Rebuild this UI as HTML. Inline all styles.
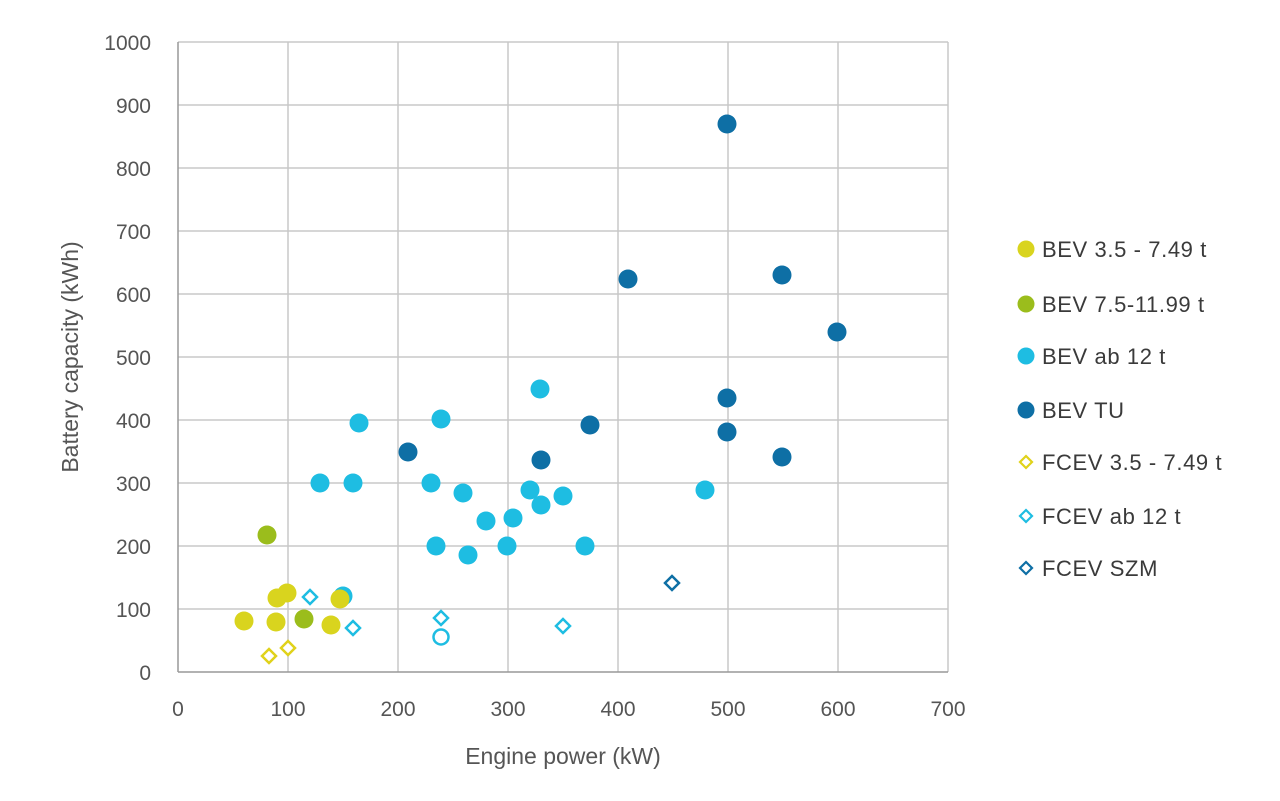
<!DOCTYPE html>
<html><head><meta charset="utf-8"><style>
html,body{margin:0;padding:0;background:#fff;}
svg{display:block;font-family:"Liberation Sans",sans-serif;}
</style></head><body>
<svg width="1280" height="801" viewBox="0 0 1280 801" xmlns="http://www.w3.org/2000/svg">
<rect width="1280" height="801" fill="#fff"/>
<g stroke="#c8c8c8" stroke-width="1.5">
<line x1="178" y1="42" x2="948" y2="42"/><line x1="178" y1="105" x2="948" y2="105"/><line x1="178" y1="168" x2="948" y2="168"/><line x1="178" y1="231" x2="948" y2="231"/><line x1="178" y1="294" x2="948" y2="294"/><line x1="178" y1="357" x2="948" y2="357"/><line x1="178" y1="420" x2="948" y2="420"/><line x1="178" y1="483" x2="948" y2="483"/><line x1="178" y1="546" x2="948" y2="546"/><line x1="178" y1="609" x2="948" y2="609"/>
<line x1="288" y1="42" x2="288" y2="672"/><line x1="398" y1="42" x2="398" y2="672"/><line x1="508" y1="42" x2="508" y2="672"/><line x1="618" y1="42" x2="618" y2="672"/><line x1="728" y1="42" x2="728" y2="672"/><line x1="838" y1="42" x2="838" y2="672"/><line x1="948" y1="42" x2="948" y2="672"/>
</g>
<g stroke="#999" stroke-width="1.5"><line x1="178" y1="42" x2="178" y2="672"/><line x1="178" y1="672" x2="948" y2="672"/></g>
<g fill="#555" font-size="21" text-anchor="end">
<text x="151" y="50">1000</text><text x="151" y="113">900</text><text x="151" y="176">800</text><text x="151" y="239">700</text><text x="151" y="302">600</text><text x="151" y="365">500</text><text x="151" y="428">400</text><text x="151" y="491">300</text><text x="151" y="554">200</text><text x="151" y="617">100</text><text x="151" y="680">0</text>
</g>
<g fill="#555" font-size="21" text-anchor="middle">
<text x="178" y="716">0</text><text x="288" y="716">100</text><text x="398" y="716">200</text><text x="508" y="716">300</text><text x="618" y="716">400</text><text x="728" y="716">500</text><text x="838" y="716">600</text><text x="948" y="716">700</text>
<text x="563" y="764" font-size="23">Engine power (kW)</text>
<text transform="translate(78,357) rotate(-90)" font-size="23">Battery capacity (kWh)</text>
</g>
<g fill="#1ebde2">
<circle cx="343" cy="596" r="9.5"/><circle cx="320" cy="483" r="9.5"/><circle cx="353" cy="483" r="9.5"/><circle cx="359" cy="423" r="9.5"/><circle cx="441" cy="419" r="9.5"/><circle cx="431" cy="483" r="9.5"/><circle cx="463" cy="493" r="9.5"/><circle cx="436" cy="546" r="9.5"/><circle cx="468" cy="555" r="9.5"/><circle cx="486" cy="521" r="9.5"/><circle cx="513" cy="518" r="9.5"/><circle cx="507" cy="546" r="9.5"/><circle cx="530" cy="490" r="9.5"/><circle cx="541" cy="505" r="9.5"/><circle cx="563" cy="496" r="9.5"/><circle cx="540" cy="389" r="9.5"/><circle cx="585" cy="546" r="9.5"/><circle cx="705" cy="490" r="9.5"/>
</g>
<circle cx="441" cy="637" r="7.5" fill="none" stroke="#1ebde2" stroke-width="2.5"/>
<g fill="#0e6fa5">
<circle cx="727" cy="124" r="9.5"/><circle cx="628" cy="279" r="9.5"/><circle cx="782" cy="275" r="9.5"/><circle cx="837" cy="332" r="9.5"/><circle cx="727" cy="398" r="9.5"/><circle cx="727" cy="432" r="9.5"/><circle cx="782" cy="457" r="9.5"/><circle cx="590" cy="425" r="9.5"/><circle cx="408" cy="452" r="9.5"/><circle cx="541" cy="460" r="9.5"/>
</g>
<g fill="#d9d41e">
<circle cx="244" cy="621" r="9.5"/><circle cx="276" cy="622" r="9.5"/><circle cx="277" cy="598" r="9.5"/><circle cx="287" cy="593" r="9.5"/><circle cx="331" cy="625" r="9.5"/><circle cx="340" cy="599" r="9.5"/>
</g>
<g fill="#9bbd1c"><circle cx="267" cy="535" r="9.5"/><circle cx="304" cy="619" r="9.5"/></g>
<g fill="#fff" stroke-width="2.5">
<path d="M269,649 l7,7 l-7,7 l-7,-7z" stroke="#e0d21a"/>
<path d="M288,641 l7,7 l-7,7 l-7,-7z" stroke="#e0d21a"/>
<path d="M310,590 l7,7 l-7,7 l-7,-7z" stroke="#1ebde2"/>
<path d="M353,621 l7,7 l-7,7 l-7,-7z" stroke="#1ebde2"/>
<path d="M441,611 l7,7 l-7,7 l-7,-7z" stroke="#1ebde2"/>
<path d="M563,619 l7,7 l-7,7 l-7,-7z" stroke="#1ebde2"/>
<path d="M672,576 l7,7 l-7,7 l-7,-7z" stroke="#0e6fa5"/>
</g>
<g font-size="22" fill="#3a3a3a" letter-spacing="0.6">
<circle cx="1026" cy="249" r="8.5" fill="#d9d41e"/><text x="1042" y="257">BEV 3.5 - 7.49 t</text>
<circle cx="1026" cy="304" r="8.5" fill="#9bbd1c"/><text x="1042" y="312">BEV 7.5-11.99 t</text>
<circle cx="1026" cy="356" r="8.5" fill="#1ebde2"/><text x="1042" y="364">BEV ab 12 t</text>
<circle cx="1026" cy="410" r="8.5" fill="#0e6fa5"/><text x="1042" y="418">BEV TU</text>
<path d="M1026,456 l6,6 l-6,6 l-6,-6z" fill="#fff" stroke="#e0d21a" stroke-width="2.2"/><text x="1042" y="470">FCEV 3.5 - 7.49 t</text>
<path d="M1026,510 l6,6 l-6,6 l-6,-6z" fill="#fff" stroke="#1ebde2" stroke-width="2.2"/><text x="1042" y="524">FCEV ab 12 t</text>
<path d="M1026,562 l6,6 l-6,6 l-6,-6z" fill="#fff" stroke="#0e6fa5" stroke-width="2.2"/><text x="1042" y="576">FCEV SZM</text>
</g>
</svg>
</body></html>
